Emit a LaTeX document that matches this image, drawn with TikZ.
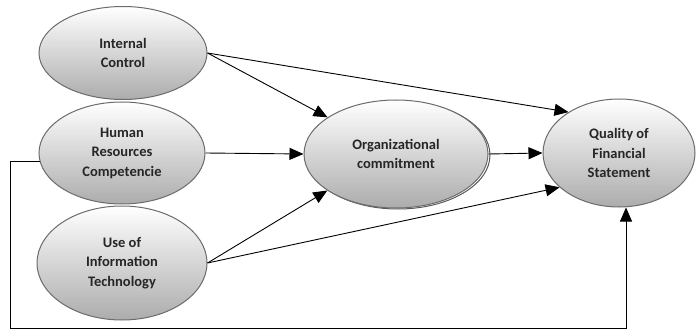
\documentclass[tikz,border=0pt]{standalone}
\usepackage{fontspec}
\setmainfont{Carlito}
\usetikzlibrary{shapes.geometric,arrows.meta,shadows}
\begin{document}
\begin{tikzpicture}[x=1pt,y=-1pt,
  var/.style={ellipse, draw=gray!85!black, line width=1pt, top color=white, bottom color=gray!65,
    inner sep=0pt, align=center, text=black!85, font=\bfseries\fontsize{14.5}{19.5}\selectfont},
  arr/.style={-{Triangle[length=14pt,width=12pt]}, line width=0.9pt, black},
  ln/.style={line width=0.9pt, black}]
\useasboundingbox (0,0) rectangle (700,331);
\fill[white] (0,0) rectangle (700,331);
\node[var, minimum width=168pt, minimum height=93pt] (ic) at (123,53) {Internal\\Control};
\node[var, minimum width=166pt, minimum height=102pt] (hr) at (122,153) {Human\\Resources\\Competencie};
\node[var, minimum width=170pt, minimum height=114pt] (it) at (122,263) {Use of\\Information\\Technology};
\draw[gray!70!black, line width=1pt] (398,155) ellipse (92pt and 54pt);
\node[var, minimum width=184pt, minimum height=108pt] (org) at (396,154) {Organizational\\commitment};
\node[var, minimum width=152pt, minimum height=108pt] (q) at (619,153) {Quality of\\Financial\\Statement};
\coordinate (c1) at (10,328);
\coordinate (c2) at (626,328);
\draw[arr] (ic.east) -- (org);
\draw[arr] (ic.east) -- (q.141);
\draw[arr] (hr.east) -- (org.west);
\draw[arr] (org.east) -- (q.west);
\draw[arr] (it.east) -- (org.208);
\draw[arr] (it.east) -- (q.210);
\draw[arr] (hr.186) -| (c1) -- (c2) -- (q.south -| c2);
\end{tikzpicture}
\end{document}
